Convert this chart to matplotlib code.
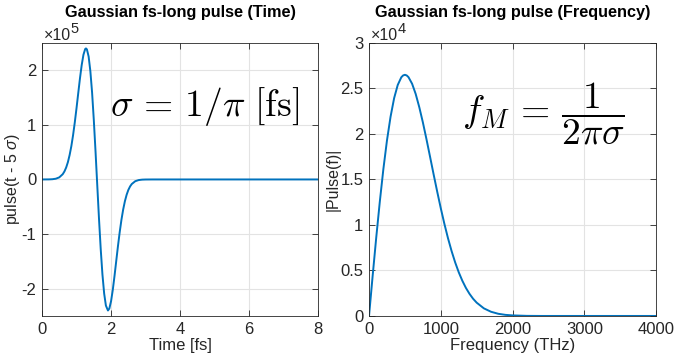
import matplotlib
matplotlib.use('Agg')
import matplotlib.pyplot as plt
from matplotlib.ticker import FuncFormatter

plt.rcParams['font.family'] = ['Liberation Sans', 'DejaVu Sans']
plt.rcParams['mathtext.fontset'] = 'custom'
plt.rcParams['mathtext.rm'] = 'Liberation Sans'
plt.rcParams['mathtext.it'] = 'Liberation Sans:italic'

# time-domain pulse, values (fs, pulse)
t_fs = [0.0, 0.2, 0.3, 0.4, 0.5, 0.6, 0.65, 0.7, 0.75, 0.8, 0.85, 0.9, 0.95, 1.0,
        1.05, 1.1, 1.15, 1.2, 1.25, 1.273, 1.3, 1.35, 1.4, 1.45, 1.5, 1.55, 1.5915,
        1.65, 1.7, 1.75, 1.8, 1.85, 1.91, 1.95, 2.0, 2.05, 2.1, 2.15, 2.2, 2.25,
        2.3, 2.35, 2.4, 2.45, 2.5, 2.55, 2.6, 2.7, 2.8, 2.9, 3.0, 3.2, 8.0]
pulse_t = [0.0, 122, 426, 1340, 3800, 9600, 14700, 21900, 31700, 44800, 61060,
           81200, 104700, 130800, 158400, 185500, 209700, 228400, 238800, 240000,
           238300, 225200, 198500, 159500, 109000, 51200, 0.0, -71600, -127400,
           -174100, -209000, -231000, -240000, -236400, -222800, -202000, -176500,
           -149000, -121700, -96400, -73900, -55100, -39900, -28100, -19200,
           -12800, -8300, -3200, -1100, -350, -100, 0.0, 0.0]

# spectrum magnitude (THz, |Pulse(f)|)
f_thz = [0, 50, 100, 150, 200, 250, 300, 350, 400, 450, 475, 500, 525, 550, 600,
         650, 700, 750, 800, 850, 900, 950, 1000, 1050, 1100, 1150, 1200, 1250,
         1300, 1350, 1400, 1450, 1500, 1600, 1700, 1800, 1900, 2000, 2200, 2400,
         4000]
pulse_f = [0, 4350, 8570, 12530, 16140, 19280, 21890, 23940, 25380, 26230, 26430,
           26500, 26430, 26240, 25520, 24400, 22950, 21280, 19440, 17510, 15560,
           13660, 11830, 10120, 8550, 7140, 5890, 4800, 3870, 3080, 2430, 1890,
           1460, 835, 460, 240, 120, 60, 10, 0, 0]

line_color = '#0072BD'
axis_color = '#262626'
grid_color = '#e3e3e3'

fig = plt.figure(figsize=(6.74, 3.64), dpi=100)
ax1 = fig.add_axes([0.0623, 0.132, 0.410, 0.750])
ax2 = fig.add_axes([0.5475, 0.132, 0.426, 0.750])


def style(ax, scale, exp):
    ax.grid(True, color=grid_color, linewidth=0.8)
    ax.set_axisbelow(True)
    ax.tick_params(direction='in', length=4, width=0.6, colors=axis_color,
                   labelsize=12, top=True, right=True, pad=4)
    for s in ax.spines.values():
        s.set_color(axis_color)
        s.set_linewidth(0.6)
    ax.yaxis.set_major_formatter(FuncFormatter(lambda v, p: '%g' % (v / scale)))
    # MATLAB-style exponent label above the y axis
    base = ax.text(0.006, 1.012, '\u00d710', transform=ax.transAxes,
                   fontsize=11.5, color=axis_color, ha='left', va='baseline')
    ax.annotate(str(exp), xy=(1, 0.66), xycoords=base, fontsize=10.5,
                color=axis_color, ha='left', va='baseline')


ax1.plot(t_fs, pulse_t, color=line_color, lw=1.4)
ax1.set_xlim(0, 8)
ax1.set_ylim(-2.5e5, 2.5e5)
ax1.set_xticks([0, 2, 4, 6, 8])
ax1.set_yticks([-2e5, -1e5, 0, 1e5, 2e5])
style(ax1, 1e5, 5)
ax1.set_title('Gaussian fs-long pulse (Time)', fontsize=11.7, fontweight='bold',
              y=1.094, pad=0, va='baseline')
ax1.set_xlabel('Time [fs]', fontsize=12, color=axis_color, labelpad=1)
ax1.set_ylabel(r'pulse(t - 5 $\sigma$)', fontsize=11.5, color=axis_color, labelpad=0)
ax1.text(4.72, 1.34e5, r'$\sigma\, =\, 1/\pi\ [\mathrm{fs}]$', fontsize=27,
         math_fontfamily='cm', ha='center', va='center')

ax2.plot(f_thz, pulse_f, color=line_color, lw=1.4)
ax2.set_xlim(0, 4000)
ax2.set_ylim(0, 3e4)
ax2.set_xticks([0, 1000, 2000, 3000, 4000])
ax2.set_yticks([0, 0.5e4, 1e4, 1.5e4, 2e4, 2.5e4, 3e4])
style(ax2, 1e4, 4)
ax2.set_title('Gaussian fs-long pulse (Frequency)', fontsize=11.7, fontweight='bold',
              y=1.094, pad=0, va='baseline')
ax2.set_xlabel('Frequency (THz)', fontsize=12, color=axis_color, labelpad=1)
ax2.set_ylabel('|Pulse(f)|', fontsize=11.5, color=axis_color, labelpad=0)
ax2.text(2430, 2.22e4, r'$f_M\, =\, \dfrac{1}{2\pi\sigma}$', fontsize=27,
         math_fontfamily='cm', ha='center', va='center')

fig.savefig('out.png', dpi=100)
